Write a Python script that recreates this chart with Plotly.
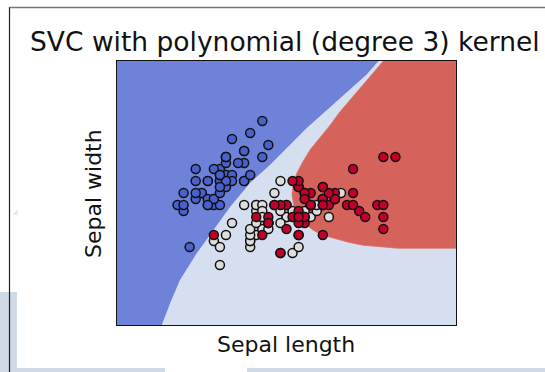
import plotly.graph_objects as go

# Iris data: sepal length / sepal width, class 0=setosa, 1=versicolor, 2=virginica
sepal_length = [
    5.1, 4.9, 4.7, 4.6, 5.0, 5.4, 4.6, 5.0, 4.4, 4.9, 5.4, 4.8, 4.8, 4.3, 5.8, 5.7, 5.4, 5.1, 5.7, 5.1,
    5.4, 5.1, 4.6, 5.1, 4.8, 5.0, 5.0, 5.2, 5.2, 4.7, 4.8, 5.4, 5.2, 5.5, 4.9, 5.0, 5.5, 4.9, 4.4, 5.1,
    5.0, 4.5, 4.4, 5.0, 5.1, 4.8, 5.1, 4.6, 5.3, 5.0,
    7.0, 6.4, 6.9, 5.5, 6.5, 5.7, 6.3, 4.9, 6.6, 5.2, 5.0, 5.9, 6.0, 6.1, 5.6, 6.7, 5.6, 5.8, 6.2, 5.6,
    5.9, 6.1, 6.3, 6.1, 6.4, 6.6, 6.8, 6.7, 6.0, 5.7, 5.5, 5.5, 5.8, 6.0, 5.4, 6.0, 6.7, 6.3, 5.6, 5.5,
    5.5, 6.1, 5.8, 5.0, 5.6, 5.7, 5.7, 6.2, 5.1, 5.7,
    6.3, 5.8, 7.1, 6.3, 6.5, 7.6, 4.9, 7.3, 6.7, 7.2, 6.5, 6.4, 6.8, 5.7, 5.8, 6.4, 6.5, 7.7, 7.7, 6.0,
    6.9, 5.6, 7.7, 6.3, 6.7, 7.2, 6.2, 6.1, 6.4, 7.2, 7.4, 7.9, 6.4, 6.3, 6.1, 7.7, 6.3, 6.4, 6.0, 6.9,
    6.7, 6.9, 5.8, 6.8, 6.7, 6.7, 6.3, 6.5, 6.2, 5.9,
]
sepal_width = [
    3.5, 3.0, 3.2, 3.1, 3.6, 3.9, 3.4, 3.4, 2.9, 3.1, 3.7, 3.4, 3.0, 3.0, 4.0, 4.4, 3.9, 3.5, 3.8, 3.8,
    3.4, 3.7, 3.6, 3.3, 3.4, 3.0, 3.4, 3.5, 3.4, 3.2, 3.1, 3.4, 4.1, 4.2, 3.1, 3.2, 3.5, 3.6, 3.0, 3.4,
    3.5, 2.3, 3.2, 3.5, 3.8, 3.0, 3.8, 3.2, 3.7, 3.3,
    3.2, 3.2, 3.1, 2.3, 2.8, 2.8, 3.3, 2.4, 2.9, 2.7, 2.0, 3.0, 2.2, 2.9, 2.9, 3.1, 3.0, 2.7, 2.2, 2.5,
    3.2, 2.8, 2.5, 2.8, 2.9, 3.0, 2.8, 3.0, 2.9, 2.6, 2.4, 2.4, 2.7, 2.7, 3.0, 3.4, 3.1, 2.3, 3.0, 2.5,
    2.6, 3.0, 2.6, 2.3, 2.7, 3.0, 2.9, 2.9, 2.5, 2.8,
    3.3, 2.7, 3.0, 2.9, 3.0, 3.0, 2.5, 2.9, 2.5, 3.6, 3.2, 2.7, 3.0, 2.5, 2.8, 3.2, 3.0, 3.8, 2.6, 2.2,
    3.2, 2.8, 2.8, 2.7, 3.3, 3.2, 2.8, 3.0, 2.8, 3.0, 2.8, 3.8, 2.8, 2.8, 2.6, 3.0, 3.4, 3.1, 3.0, 3.1,
    3.1, 3.1, 2.7, 3.2, 3.3, 3.0, 2.5, 3.0, 3.4, 3.0,
]
species = [0] * 50 + [1] * 50 + [2] * 50

# Decision-region boundaries (data units)
blue_edge_x = [4.04, 4.18, 4.34, 4.62, 4.89, 5.17, 5.50, 5.83, 6.43, 6.98, 7.42, 7.62]
blue_edge_y = [1.00, 1.37, 1.75, 2.20, 2.58, 2.97, 3.37, 3.67, 4.28, 4.78, 5.17, 5.40]
red_edge_x = [7.70, 7.53, 7.36, 7.17, 6.98, 6.82, 6.65, 6.49, 6.37, 6.27, 6.21, 6.19, 6.22,
              6.32, 6.42, 6.54, 6.69, 6.87, 7.12, 7.36, 7.64, 7.93, 8.90]
red_edge_y = [5.40, 5.20, 5.00, 4.78, 4.55, 4.33, 4.12, 3.92, 3.72, 3.53, 3.33, 3.17, 3.00,
              2.80, 2.68, 2.58, 2.50, 2.45, 2.38, 2.33, 2.30, 2.28, 2.28]

x_range = [3.3, 8.9]
y_range = [1.0, 5.4]

title_text = "SVC with polynomial (degree 3) kernel"
x_label = "Sepal length"
y_label = "Sepal width"

region_blue = "#6e82da"
region_light = "#d5dff0"
region_red = "#d6625c"
point_colors = ["#4a60cc", "#dddddd", "#c00028"]

fig = go.Figure()

# blue region polygon
bx = [x_range[0]] + blue_edge_x + [x_range[0]]
by = [y_range[0]] + blue_edge_y + [y_range[1]]
fig.add_trace(go.Scatter(x=bx, y=by, fill="toself", fillcolor=region_blue, mode="lines",
                         line=dict(width=0, color=region_blue), hoverinfo="skip", showlegend=False))
# red region polygon
rx = red_edge_x + [x_range[1]]
ry = red_edge_y + [y_range[1]]
fig.add_trace(go.Scatter(x=rx, y=ry, fill="toself", fillcolor=region_red, mode="lines",
                         line=dict(width=0.8, color="#e0706a"), hoverinfo="skip", showlegend=False))

fig.add_trace(go.Scatter(
    x=sepal_length, y=sepal_width, mode="markers",
    marker=dict(size=9, color=[point_colors[s] for s in species],
                line=dict(color="#111111", width=1.5)),
    showlegend=False, hoverinfo="skip"))

# page geometry (pixels) of the plot area
L, R, T, B = 117, 456, 61, 325
W, H = 545, 372


def px(x):
    return (x - L) / (R - L)


def py(y):
    return (B - y) / (B - T)


axis_common = dict(showticklabels=False, ticks="", showgrid=False, zeroline=False,
                   showline=True, linecolor="#111111", linewidth=1.2, mirror=True)

tri = "M {:.4f},{:.4f} L {:.4f},{:.4f} L {:.4f},{:.4f} Z".format(
    px(13), py(215), px(17.5), py(215), px(17.5), py(209))

fig.update_layout(
    width=W, height=H,
    margin=dict(l=L, r=W - R, t=T, b=H - B),
    paper_bgcolor="white", plot_bgcolor=region_light,
    xaxis=dict(range=x_range, **axis_common),
    yaxis=dict(range=y_range, **axis_common),
    font=dict(family="DejaVu Sans", color="#111111"),
    annotations=[
        dict(text=title_text, xref="paper", yref="paper", x=px(285), y=py(42),
             xanchor="center", yanchor="middle", showarrow=False, font=dict(size=26.5)),
        dict(text=x_label, xref="paper", yref="paper", x=px(286), y=py(344),
             xanchor="center", yanchor="middle", showarrow=False, font=dict(size=22)),
        dict(text=y_label, xref="paper", yref="paper", x=px(93), y=py(194), textangle=-90,
             xanchor="center", yanchor="middle", showarrow=False, font=dict(size=22)),
    ],
    shapes=[
        # surrounding frame / page artefacts
        dict(type="rect", xref="paper", yref="paper", x0=px(0), x1=px(17), y0=py(292), y1=py(372),
             fillcolor="#cfdae6", line=dict(width=0), layer="below"),
        dict(type="rect", xref="paper", yref="paper", x0=px(0), x1=px(165), y0=py(368), y1=py(372),
             fillcolor="#cfdae6", line=dict(width=0), layer="below"),
        dict(type="rect", xref="paper", yref="paper", x0=px(247), x1=px(545), y0=py(368), y1=py(372),
             fillcolor="#cfdae6", line=dict(width=0), layer="below"),
        dict(type="path", xref="paper", yref="paper", path=tri,
             fillcolor="#dde5ee", line=dict(width=0), layer="below"),
        dict(type="line", xref="paper", yref="paper", x0=px(9.5), x1=px(9.5), y0=py(7), y1=py(372),
             line=dict(color="#222222", width=1.2)),
        dict(type="line", xref="paper", yref="paper", x0=px(9.5), x1=px(545), y0=py(7.5), y1=py(7.5),
             line=dict(color="#777777", width=1.5)),
    ],
)

fig.write_html("out.html", config={"displayModeBar": False},
               post_script="document.body.style.margin='0';")
